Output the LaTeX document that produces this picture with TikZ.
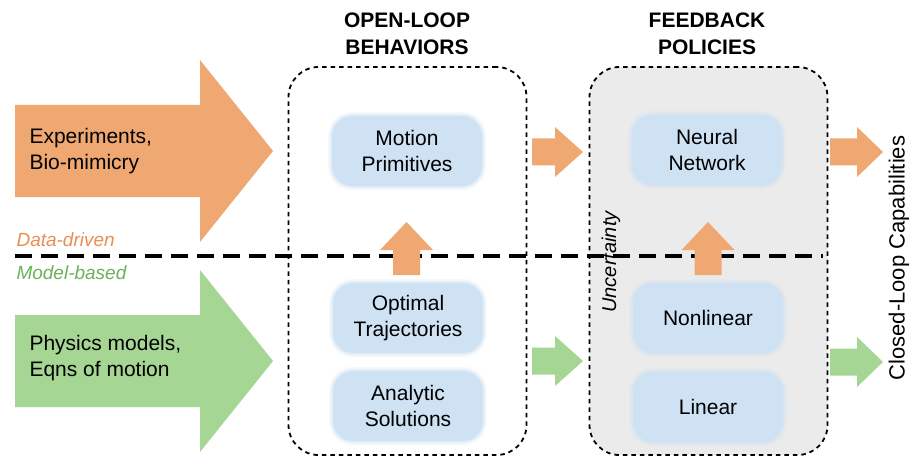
\documentclass[tikz,border=0pt]{standalone}
\usepackage{fontspec}
\setmainfont{Liberation Sans}
\definecolor{arrOrange}{HTML}{F0A873}
\definecolor{arrGreen}{HTML}{A6D694}
\definecolor{txtOrange}{HTML}{E98E55}
\definecolor{txtGreen}{HTML}{6AB158}
\definecolor{boxBlue}{HTML}{CFE2F3}
\definecolor{panelGray}{HTML}{EBEBEB}
% block arrow pointing right: colour, x start, head start, tip, y centre, half body, half head
\newcommand\blockR[7]{%
  \fill[#1] (#2,#5-#6) -- (#3,#5-#6) -- (#3,#5-#7) -- (#4,#5)
            -- (#3,#5+#7) -- (#3,#5+#6) -- (#2,#5+#6) -- cycle;}
% block arrow pointing up: colour, x centre, y bottom, head base, tip, half body, half head
\newcommand\blockU[7]{%
  \fill[#1] (#2-#6,#3) -- (#2-#6,#4) -- (#2-#7,#4) -- (#2,#5)
            -- (#2+#7,#4) -- (#2+#6,#4) -- (#2+#6,#3) -- cycle;}
\tikzset{
  bodyfont/.style={font=\fontsize{21}{26}\selectfont},
  headfont/.style={font=\bfseries\fontsize{21}{27}\selectfont},
  panel/.style={draw=black, line width=1.8pt, dash pattern=on 4.5pt off 4pt,
    rounded corners=30pt, minimum width=238pt, minimum height=388pt, inner sep=0pt},
  softbox/.style={fill=boxBlue, rounded corners=20pt, minimum width=150pt,
    minimum height=70pt, inner sep=0pt, align=center, bodyfont,
    preaction={draw=boxBlue, line width=8pt, draw opacity=0.2},
    preaction={draw=boxBlue, line width=4pt, draw opacity=0.45}},
  divider/.style={line width=3.8pt, dash pattern=on 17pt off 9pt},
}
\begin{document}
\begin{tikzpicture}[x=1pt,y=-1pt]
\useasboundingbox (0,0) rectangle (917,457);
\fill[white] (0,0) rectangle (917,457);

% containers
\node[panel] (olbox) at (407.5,261) {};
\node[panel, fill=panelGray] (fbbox) at (708.5,261) {};

% data-driven / model-based divider
\coordinate (divL) at (15,256);
\coordinate (divR) at (823,256);
\draw[divider] (divL) -- (divR);

% input arrows
\blockR{arrOrange}{15}{200}{273}{151}{46}{91}
\blockR{arrGreen}{15}{200}{273}{361}{46}{91}

% method boxes
\node[softbox] (mp) at (407,151) {Motion\\Primitives};
\node[softbox] (ot) at (408,318) {Optimal\\Trajectories};
\node[softbox] (as) at (408,406) {Analytic\\Solutions};
\node[softbox] (nn) at (707,150) {Neural\\Network};
\node[softbox] (nl) at (708,318) {Nonlinear};
\node[softbox] (li) at (708,407) {Linear};

% transfer arrows
\blockR{arrOrange}{532}{555}{583}{152}{13.5}{25}
\blockR{arrGreen}{532}{555}{583}{361}{13.5}{25}
\blockR{arrOrange}{830}{857}{883}{152}{13.5}{25}
\blockR{arrGreen}{830}{857}{883}{362}{13.5}{25}
\blockU{arrOrange}{406.5}{275}{250}{222}{13.5}{26.5}
\blockU{arrOrange}{708}{275}{250}{222}{13.5}{26.5}

% labels
\node[bodyfont, align=left, anchor=west] (exp) at (26,151) {Experiments,\\Bio-mimicry};
\node[bodyfont, align=left, anchor=west] (phy) at (26,358) {Physics models,\\Eqns of motion};
\node[font=\itshape\fontsize{19}{22}\selectfont, text=txtOrange, anchor=west] (dd) at (13,240) {Data-driven};
\node[font=\itshape\fontsize{19}{22}\selectfont, text=txtGreen, anchor=west] (mb) at (13,273) {Model-based};
\node[headfont, align=center] (olt) at (407,34) {OPEN-LOOP\\BEHAVIORS};
\node[headfont, align=center] (fbt) at (707,34) {FEEDBACK\\POLICIES};
\node[font=\itshape\fontsize{20}{22}\selectfont, rotate=90] (unc) at (611,262) {Uncertainty};
\node[font=\fontsize{22}{26}\selectfont, rotate=90] (clc) at (899,258) {Closed-Loop Capabilities};
\end{tikzpicture}
\end{document}
